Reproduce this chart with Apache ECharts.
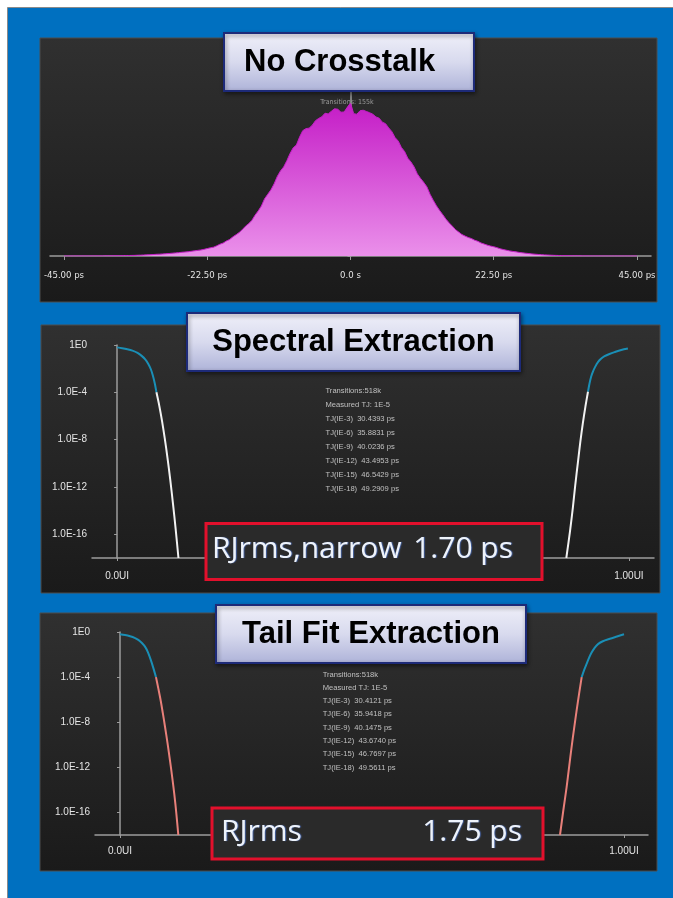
<!DOCTYPE html>
<html>
<head>
<meta charset="utf-8">
<script src="https://cdn.jsdelivr.net/npm/echarts@6/dist/echarts.min.js"></script>
<style>
  html, body { margin: 0; padding: 0; background: #ffffff; }
  #chart { width: 673px; height: 898px; }
</style>
</head>
<body>
<div id="chart"></div>
<script>
// ---- Jitter histogram: counts per 0.5 ps bin, first bin at -45 ps ----
const histFirstBinPs = -45;
const histBinPs = 0.5;
const histCounts = [
  0, 0, 0, 0, 1, 0, 1, 1, 1, 2,
  2, 2, 2, 3, 3, 4, 5, 5, 7, 8,
  9, 11, 12, 15, 17, 20, 23, 26, 29, 34,
  37, 41, 46, 50, 56, 62, 67, 75, 80, 86,
  95, 104, 113, 121, 134, 150, 165, 178, 205, 238,
  260, 302, 330, 384, 425, 470, 530, 598, 650, 716,
  820, 905, 1005, 1150, 1240, 1330, 1450, 1600, 1710, 1790,
  1915, 2060, 2175, 2230, 2390, 2520, 2560, 2570, 2630, 2720,
  2765, 2800, 2870, 2855, 2910, 2960, 2950, 2890, 2895, 2990,
  3075, 2860, 2850, 2920, 2930, 2905, 2880, 2850, 2795, 2770,
  2690, 2660, 2575, 2500, 2380, 2310, 2180, 2100, 1965, 1890,
  1790, 1650, 1560, 1480, 1390, 1240, 1120, 1010, 915, 830,
  740, 665, 600, 530, 480, 432, 400, 372, 350, 318,
  295, 262, 240, 218, 200, 186, 168, 146, 130, 116,
  103, 92, 83, 72, 64, 56, 49, 42, 36, 31,
  26, 22, 19, 16, 13, 11, 9, 7, 6, 5,
  4, 3, 3, 2, 2, 1, 1, 1, 1, 0,
  0, 0, 0, 0, 0, 0, 0, 0, 0, 0,
  0
];
const histTickValues = [-45, -22.5, 0, 22.5, 45];
const histTickLabels = ['-45.00 ps', '-22.50 ps', '0.0 s', '22.50 ps', '45.00 ps'];
const histTransitions = 'Transitions: 155k';

// ---- Bathtub curves: [UI, log10(BER)] ----
const berTickValues = [0, -4, -8, -12, -16];
const berTickLabels = ['1E0', '1.0E-4', '1.0E-8', '1.0E-12', '1.0E-16'];
const uiTickValues = [0, 1];
const uiTickLabels = ['0.0UI', '1.00UI'];

// measured part (blue) and extrapolated part, spectral method
const spectralLeftMeasured = [
  [0.000, -0.20], [0.010, -0.27], [0.020, -0.36], [0.030, -0.48], [0.040, -0.67], [0.048, -0.92],
  [0.055, -1.22], [0.061, -1.60], [0.066, -2.05], [0.070, -2.60], [0.0737, -3.25], [0.0769, -4.00]
];
const spectralLeftExtrap = [
  [0.0769, -4.00], [0.0823, -5.10], [0.0877, -6.39], [0.0930, -7.85], [0.0984, -9.51],
  [0.1038, -11.36], [0.1092, -13.40], [0.1145, -15.58], [0.1199, -18.00]
];
const spectralRightMeasured = [
  [0.920, -3.95], [0.923, -3.25], [0.926, -2.70], [0.9297, -2.25], [0.934, -1.85], [0.9395, -1.45],
  [0.946, -1.15], [0.9525, -0.95], [0.962, -0.76], [0.972, -0.60], [0.985, -0.42], [0.998, -0.30]
];
const spectralRightExtrap = [
  [0.8777, -18.0], [0.8850, -15.7], [0.8906, -13.7], [0.8950, -11.9], [0.9004, -9.9],
  [0.9050, -8.2], [0.9100, -6.6], [0.9150, -5.2], [0.9200, -3.95]
];

// measured part (blue) and tail-fit part
const tailLeftMeasured = [
  [0.000, -0.20], [0.010, -0.27], [0.020, -0.38], [0.029, -0.52], [0.0363, -0.70], [0.043, -0.95],
  [0.0496, -1.30], [0.0555, -1.80], [0.0609, -2.45], [0.0662, -3.20], [0.0714, -4.00]
];
const tailLeftExtrap = [
  [0.0714, -4.00], [0.0760, -5.00], [0.0807, -6.07], [0.0850, -7.20], [0.0893, -8.40], [0.0943, -9.85],
  [0.0992, -11.40], [0.1035, -12.85], [0.1078, -14.40], [0.1118, -16.10], [0.1157, -18.00]
];
const tailRightMeasured = [
  [0.916, -4.00], [0.921, -3.35], [0.926, -2.80], [0.931, -2.25], [0.936, -1.80], [0.942, -1.38],
  [0.949, -1.05], [0.958, -0.82], [0.972, -0.60], [0.986, -0.40], [1.000, -0.20]
];
const tailRightExtrap = [
  [0.8730, -18.00], [0.8795, -15.85], [0.8860, -13.80], [0.8910, -12.00], [0.8960, -10.20],
  [0.9010, -8.55], [0.9060, -6.95], [0.9110, -5.45], [0.9160, -4.00]
];

// ---- Measurement read-outs ----
const bathtubTransitions = 'Transitions:518k';
const measuredTJ = 'Measured TJ: 1E-5';
const tjLevels = ['TJ(IE-3)', 'TJ(IE-6)', 'TJ(IE-9)', 'TJ(IE-12)', 'TJ(IE-15)', 'TJ(IE-18)'];
const tjSpectral = ['30.4393', '35.8831', '40.0236', '43.4953', '46.5429', '49.2909'];
const tjTailFit = ['30.4121', '35.9418', '40.1475', '43.6740', '46.7697', '49.5611'];
const rjLabels = ['RJrms,narrow', 'RJrms'];
const rjValues = ['1.70 ps', '1.75 ps'];
const panelTitles = ['No Crosstalk', 'Spectral Extraction', 'Tail Fit Extraction'];

// ---- styling helpers ----
const narrowFont = '"Liberation Sans Narrow", "DejaVu Sans Condensed", "Liberation Sans", sans-serif';
const axisGray = '#9c9c9c';
const tickText = '#e4e4e4';
const blueSeg = '#1a8fb6';

const histData = histCounts.map((c, i) => [histFirstBinPs + i * histBinPs, c]);

function panelBg(x, y, w, h) {
  return {
    type: 'rect', z: -10,
    shape: { x: x, y: y, width: w, height: h },
    style: {
      fill: new echarts.graphic.LinearGradient(0, 0, 0, 1, [
        { offset: 0, color: '#303030' }, { offset: 1, color: '#1a1a1a' }
      ]),
      stroke: '#4d4d4d', lineWidth: 1
    }
  };
}

function titleBox(x, y, w, h, text, tx, align) {
  return [{
    type: 'rect', z: 60,
    shape: { x: x, y: y, width: w, height: h },
    style: {
      fill: new echarts.graphic.LinearGradient(0, 0, 0, 1, [
        { offset: 0, color: '#f0f0f9' }, { offset: 0.5, color: '#d8daee' }, { offset: 1, color: '#adb2d8' }
      ]),
      stroke: '#1d2a78', lineWidth: 2,
      shadowBlur: 4, shadowColor: 'rgba(0,0,0,0.45)', shadowOffsetX: 1, shadowOffsetY: 2
    }
  }, {
    type: 'text', z: 61, x: tx, y: y + h / 2,
    style: {
      text: text, fill: '#000000',
      font: 'bold 31px "Liberation Sans", Arial, sans-serif',
      textAlign: align, textVerticalAlign: 'middle'
    }
  }];
}

function readout(x, y0, step, tjValues) {
  const lines = [bathtubTransitions, measuredTJ].concat(
    tjLevels.map((lv, i) => lv + '  ' + tjValues[i] + ' ps'));
  return lines.map((t, i) => ({
    type: 'text', z: 30, x: x, y: y0 + i * step,
    style: {
      text: t, fill: '#c0c0c0',
      font: '7.6px "Liberation Sans", Arial, sans-serif',
      textAlign: 'left', textVerticalAlign: 'middle'
    }
  }));
}

function rjBox(x, y, w, h, label, value, lx, vx, cy) {
  const font = '30px "Open Sans", "Noto Sans", sans-serif';
  const txt = { fill: '#eef3fb', font: font, textVerticalAlign: 'middle',
                textShadowColor: 'rgba(90,140,255,0.55)', textShadowBlur: 1, textShadowOffsetX: 1 };
  return [{
    type: 'rect', z: 40,
    shape: { x: x, y: y, width: w, height: h },
    style: { fill: '#2a2a2a', stroke: '#e2102c', lineWidth: 3 }
  }, {
    type: 'text', z: 41, x: lx, y: cy,
    style: Object.assign({ text: label, textAlign: 'left' }, txt)
  }, {
    type: 'text', z: 41, x: vx, y: cy,
    style: Object.assign({ text: value, textAlign: 'right' }, txt)
  }];
}

function berYAxis(gridIndex) {
  return {
    type: 'value', gridIndex: gridIndex, min: -18, max: 0,
    axisLine: { show: true, lineStyle: { color: axisGray, width: 1.5 } },
    axisTick: { show: true, length: 3, customValues: berTickValues, lineStyle: { color: axisGray } },
    axisLabel: {
      customValues: berTickValues, color: tickText, fontSize: 10, margin: 5,
      fontFamily: '"Liberation Sans", Arial, sans-serif',
      formatter: v => berTickLabels[berTickValues.indexOf(v)]
    },
    splitLine: { show: false }
  };
}

function uiXAxis(gridIndex, min, max, margin) {
  return {
    type: 'value', gridIndex: gridIndex, min: min, max: max,
    axisLine: { show: true, onZero: false, lineStyle: { color: axisGray, width: 1.5 } },
    axisTick: { show: true, length: 3, customValues: uiTickValues, lineStyle: { color: axisGray } },
    axisLabel: {
      customValues: uiTickValues, color: tickText, fontSize: 10, margin: margin,
      fontFamily: '"Liberation Sans", Arial, sans-serif',
      formatter: v => uiTickLabels[uiTickValues.indexOf(v)]
    },
    splitLine: { show: false }
  };
}

function curve(data, xi, color) {
  return {
    type: 'line', xAxisIndex: xi, yAxisIndex: xi, data: data,
    smooth: 0.3, symbol: 'none', silent: true,
    lineStyle: { color: color, width: 2 }
  };
}

const graphics = [].concat(
  [{
    type: 'rect', z: -20,
    shape: { x: 7.5, y: 7.5, width: 680, height: 900 },
    style: { fill: '#0070c0', stroke: '#8a8a8a', lineWidth: 1 }
  }],
  [panelBg(40, 38, 617, 264), panelBg(41, 325, 619, 268), panelBg(40, 613, 617, 258)],
  titleBox(224, 33, 250, 58, panelTitles[0], 244, 'left'),
  titleBox(187, 313, 333, 58, panelTitles[1], 353.5, 'center'),
  titleBox(216, 605, 310, 58, panelTitles[2], 371, 'center'),
  [{
    type: 'text', z: 30, x: 347, y: 102,
    style: { text: histTransitions, fill: '#9a9a9a', font: '7px ' + narrowFont,
             textAlign: 'center', textVerticalAlign: 'middle' }
  }],
  readout(325.5, 391, 14.0, tjSpectral),
  readout(322.7, 674.5, 13.3, tjTailFit),
  rjBox(206, 523.5, 336, 56, rjLabels[0], rjValues[0], 212, 513, 549),
  rjBox(212, 808, 331, 51, rjLabels[1], rjValues[1], 221, 522, 832)
);

const option = {
  backgroundColor: '#ffffff',
  animation: false,
  grid: [
    { left: 50, top: 57, width: 601, height: 199 },
    { left: 92, top: 345, width: 562, height: 213 },
    { left: 95, top: 632, width: 553, height: 203 }
  ],
  xAxis: [
    {
      type: 'value', gridIndex: 0, min: -47.2, max: 47.2,
      axisLine: { show: true, onZero: false, lineStyle: { color: axisGray, width: 1.5 } },
      axisTick: { show: true, length: 4, customValues: histTickValues, lineStyle: { color: axisGray } },
      axisLabel: {
        customValues: histTickValues, color: tickText, fontSize: 9.5, margin: 15,
        fontFamily: narrowFont,
        formatter: v => histTickLabels[histTickValues.indexOf(v)]
      },
      splitLine: { show: false }
    },
    uiXAxis(1, -0.049, 1.049, 13),
    uiXAxis(2, -0.0496, 1.0476, 11)
  ],
  yAxis: [
    {
      type: 'value', gridIndex: 0, min: 0, max: 4000, interval: 1000,
      axisLine: { show: true, lineStyle: { color: axisGray, width: 1.5 } },
      axisTick: { show: true, length: 3, lineStyle: { color: axisGray } },
      axisLabel: { show: false },
      splitLine: { show: false }
    },
    berYAxis(1),
    berYAxis(2)
  ],
  graphic: { elements: graphics },
  series: [
    {
      type: 'line', xAxisIndex: 0, yAxisIndex: 0, data: histData,
      symbol: 'none', silent: true,
      lineStyle: { color: '#c51fc7', width: 1 },
      areaStyle: {
        opacity: 1,
        color: new echarts.graphic.LinearGradient(0, 0, 0, 1, [
          { offset: 0, color: '#c41cc6' }, { offset: 1, color: '#ea90ea' }
        ])
      }
    },
    curve(spectralLeftMeasured, 1, blueSeg),
    curve(spectralLeftExtrap, 1, '#f2f2f2'),
    curve(spectralRightMeasured, 1, blueSeg),
    curve(spectralRightExtrap, 1, '#f2f2f2'),
    curve(tailLeftMeasured, 2, blueSeg),
    curve(tailLeftExtrap, 2, '#e8807a'),
    curve(tailRightMeasured, 2, blueSeg),
    curve(tailRightExtrap, 2, '#e8807a')
  ]
};

const chart = echarts.init(document.getElementById('chart'), null, { renderer: 'canvas', width: 673, height: 898 });
chart.setOption(option);
</script>
</body>
</html>
